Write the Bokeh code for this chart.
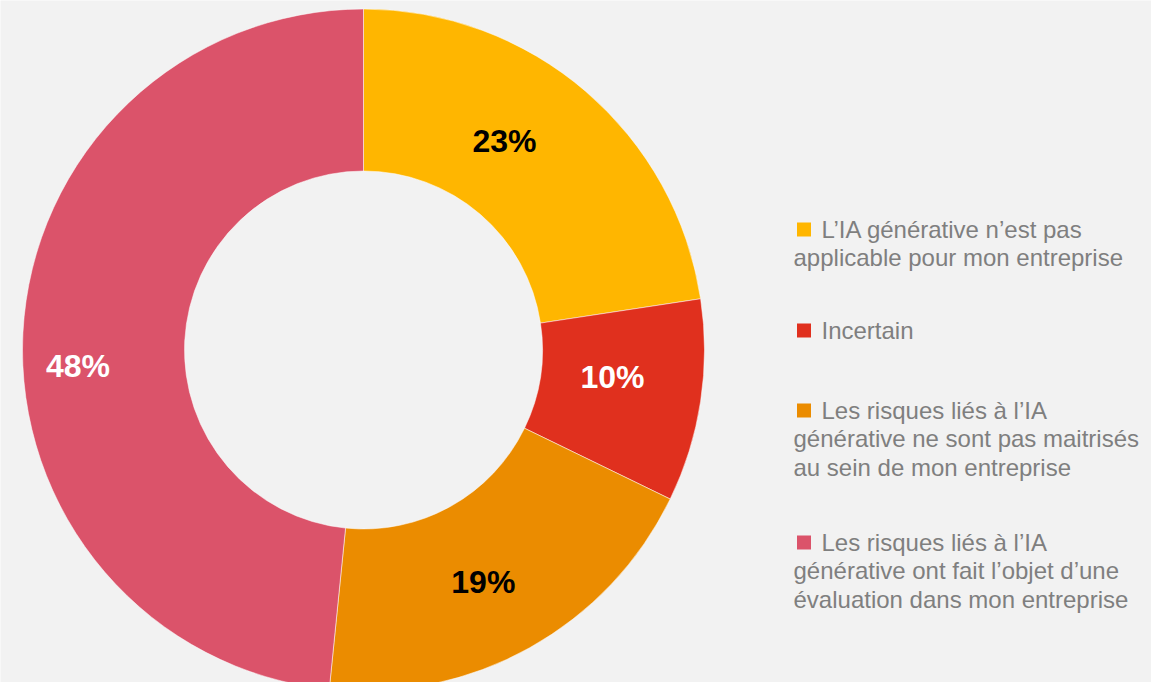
import math
from bokeh.plotting import figure
from bokeh.models import Range1d, ColumnDataSource
from bokeh.core.properties import value
from bokeh.embed import file_html
from bokeh.resources import INLINE

# ---- data ----
categories = [
    "L\u2019IA générative n\u2019est pas applicable pour mon entreprise",
    "Incertain",
    "Les risques liés à l\u2019IA générative ne sont pas maitrisés au sein de mon entreprise",
    "Les risques liés à l\u2019IA générative ont fait l\u2019objet d\u2019une évaluation dans mon entreprise",
]
legend_lines = [
    ["L\u2019IA générative n\u2019est pas", "applicable pour mon entreprise"],
    ["Incertain"],
    ["Les risques liés à l\u2019IA", "générative ne sont pas maitrisés", "au sein de mon entreprise"],
    ["Les risques liés à l\u2019IA", "générative ont fait l\u2019objet d\u2019une", "évaluation dans mon entreprise"],
]
values = [22.6, 9.6, 19.4, 48.4]          # slice sizes
labels = ["23%", "10%", "19%", "48%"]      # printed labels
colors = ["#FFB600", "#E0301E", "#EB8C00", "#DB536A"]
label_colors = ["#000000", "#FFFFFF", "#000000", "#FFFFFF"]

# ---- layout (pixel-like data coordinates; y negated) ----
W, H = 1151, 682
BG = "#F2F2F2"
cx, cy = 363, -349.5
r_out, r_in = 341, 179

p = figure(width=W, height=H, output_backend="svg", toolbar_location=None,
           x_range=Range1d(0, W), y_range=Range1d(-H, 0),
           min_border=0, background_fill_color=BG, border_fill_color=BG)
p.axis.visible = False
p.grid.visible = False
p.outline_line_color = None

total = sum(values)
starts, ends, mids = [], [], []
cum = 0
for v in values:
    a0 = math.pi / 2 - 2 * math.pi * cum / total
    cum += v
    a1 = math.pi / 2 - 2 * math.pi * cum / total
    starts.append(a0)
    ends.append(a1)
    mids.append((a0 + a1) / 2)

src = ColumnDataSource(dict(start=starts, end=ends, color=colors))
p.annular_wedge(x=cx, y=cy, inner_radius=r_in, outer_radius=r_out,
                start_angle="start", end_angle="end", direction="clock",
                fill_color="color", line_color="#FFFFFF", line_width=1,
                line_alpha=0.5, source=src)

# percentage labels: along mid-angle, with per-label nudges (layout)
label_r = 255
nudge = [(-25.3, 15.7), (-3.1, 11.6), (-4.4, -9.4), (-30.8, -28.9)]
lx, ly = [], []
for i in range(len(values)):
    lx.append(cx + label_r * math.cos(mids[i]) + nudge[i][0])
    ly.append(cy + label_r * math.sin(mids[i]) + nudge[i][1])
p.text(x=lx, y=ly, text=labels, text_color=label_colors,
       text_font=value("Liberation Sans"), text_font_style="bold",
       text_font_size="32px", text_align="center", text_baseline="middle")

# legend
first_line_y = [229.0, 330.0, 410.0, 542.0]
line_h = 28.3
tx, ty, tt = [], [], []
mx, my = [], []
for i, lines in enumerate(legend_lines):
    y0 = first_line_y[i]
    mx.append(803.5)
    my.append(-y0)
    for j, ln in enumerate(lines):
        tx.append(821 if j == 0 else 793)
        ty.append(-(y0 + j * line_h))
        tt.append(ln)
p.scatter(x=mx, y=my, marker="square", size=14, fill_color=colors, line_color=None)
p.text(x=tx, y=ty, text=tt, text_color="#7F7F7F",
       text_font=value("Liberation Sans"), text_font_size="24px",
       text_align="left", text_baseline="middle")

open("out.html", "w").write(file_html(p, INLINE))
